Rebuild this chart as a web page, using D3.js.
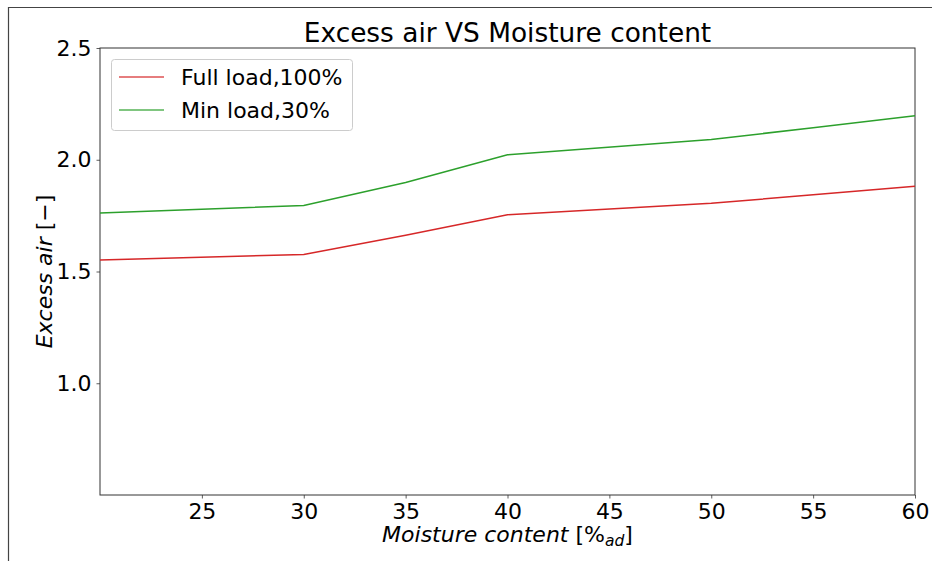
<!DOCTYPE html>
<html>
<head>
<meta charset="utf-8">
<script src="https://cdn.jsdelivr.net/npm/d3@7"></script>
<style>
  html, body { margin: 0; padding: 0; background: #fff; }
  svg { display: block; font-family: "DejaVu Sans", sans-serif; }
</style>
</head>
<body>
<svg id="chart" width="932" height="561"></svg>
<script>
// Moisture content [%ad] and the excess air measured at each load
const moisture = [20, 30, 35, 40, 50, 55, 60];
const fullLoad = [1.552, 1.576, 1.662, 1.754, 1.805, 1.843, 1.881];
const minLoad  = [1.762, 1.795, 1.898, 2.022, 2.091, 2.143, 2.197];
const seriesNames = ["Full load,100%", "Min load,30%"];
const seriesColors = ["#d62728", "#2ca02c"];
const xTicks = [25, 30, 35, 40, 45, 50, 55, 60];
const yTicks = [1.0, 1.5, 2.0, 2.5];

const svg = d3.select("#chart");
const margin = { left: 100, right: 932 - 915, top: 48, bottom: 561 - 495 };
const W = 932, H = 561;

// outer frame (top and left edges visible)
svg.append("path")
  .attr("d", `M8.5,${H} L8.5,7.5 L${W},7.5`)
  .attr("fill", "none").attr("stroke", "#444").attr("stroke-width", 1.2);

const x = d3.scaleLinear().domain([20, 60]).range([margin.left, W - margin.right]);
const y = d3.scaleLinear().domain([0.5, 2.5]).range([H - margin.bottom, margin.top]);

// axes
const xAxis = d3.axisBottom(x).tickValues(xTicks).tickFormat(d3.format("d")).tickSize(3.5).tickPadding(5);
const yAxis = d3.axisLeft(y).tickValues(yTicks).tickFormat(d3.format(".1f")).tickSize(3.5).tickPadding(5);

const gx = svg.append("g").attr("transform", `translate(0,${H - margin.bottom})`).call(xAxis);
const gy = svg.append("g").attr("transform", `translate(${margin.left},0)`).call(yAxis);
[gx, gy].forEach(g => {
  g.select(".domain").remove();
  g.selectAll("line").attr("stroke", "#333").attr("stroke-width", 0.8);
  g.selectAll("text").attr("fill", "#000").style("font-size", "22px").style("font-family", "DejaVu Sans");
});

// plot frame
svg.append("rect")
  .attr("x", x(20)).attr("y", y(2.5))
  .attr("width", x(60) - x(20)).attr("height", y(0.5) - y(2.5))
  .attr("fill", "none").attr("stroke", "#333").attr("stroke-width", 1);

// series lines
const line = d3.line().x((d, i) => x(moisture[i])).y(d => y(d));
[fullLoad, minLoad].forEach((vals, k) => {
  svg.append("path")
    .datum(vals)
    .attr("d", line)
    .attr("fill", "none")
    .attr("stroke", seriesColors[k])
    .attr("stroke-width", 1.5);
});

// title
svg.append("text")
  .attr("x", (x(20) + x(60)) / 2).attr("y", 42)
  .attr("text-anchor", "middle")
  .style("font-size", "26.4px")
  .text("Excess air VS Moisture content");

// x label
const xl = svg.append("text")
  .attr("x", (x(20) + x(60)) / 2).attr("y", 542)
  .attr("text-anchor", "middle")
  .style("font-size", "22px");
xl.append("tspan").style("font-style", "italic").text("Moisture content ");
xl.append("tspan").text("[%");
xl.append("tspan").style("font-style", "italic").style("font-size", "15.5px").attr("dy", 4).text("ad");
xl.append("tspan").attr("dy", -4).text("]");

// y label
const yl = svg.append("text")
  .attr("transform", `translate(52,${(y(0.5) + y(2.5)) / 2}) rotate(-90)`)
  .attr("text-anchor", "middle")
  .style("font-size", "22px");
yl.append("tspan").style("font-style", "italic").text("Excess air ");
yl.append("tspan").text("[\u2212]");

// legend
const lg = svg.append("g");
lg.append("rect")
  .attr("x", 111.5).attr("y", 59.5).attr("width", 241).attr("height", 71).attr("rx", 3)
  .attr("fill", "#fff").attr("stroke", "#ccc").attr("stroke-width", 1);
seriesNames.forEach((name, k) => {
  const cy = 77 + k * 33;
  lg.append("line")
    .attr("x1", 119).attr("x2", 164).attr("y1", cy).attr("y2", cy)
    .attr("stroke", seriesColors[k]).attr("stroke-width", 1.5).attr("opacity", 0.8);
  lg.append("text")
    .attr("x", 181).attr("y", cy + 8)
    .style("font-size", "22px")
    .text(name);
});
</script>
</body>
</html>
